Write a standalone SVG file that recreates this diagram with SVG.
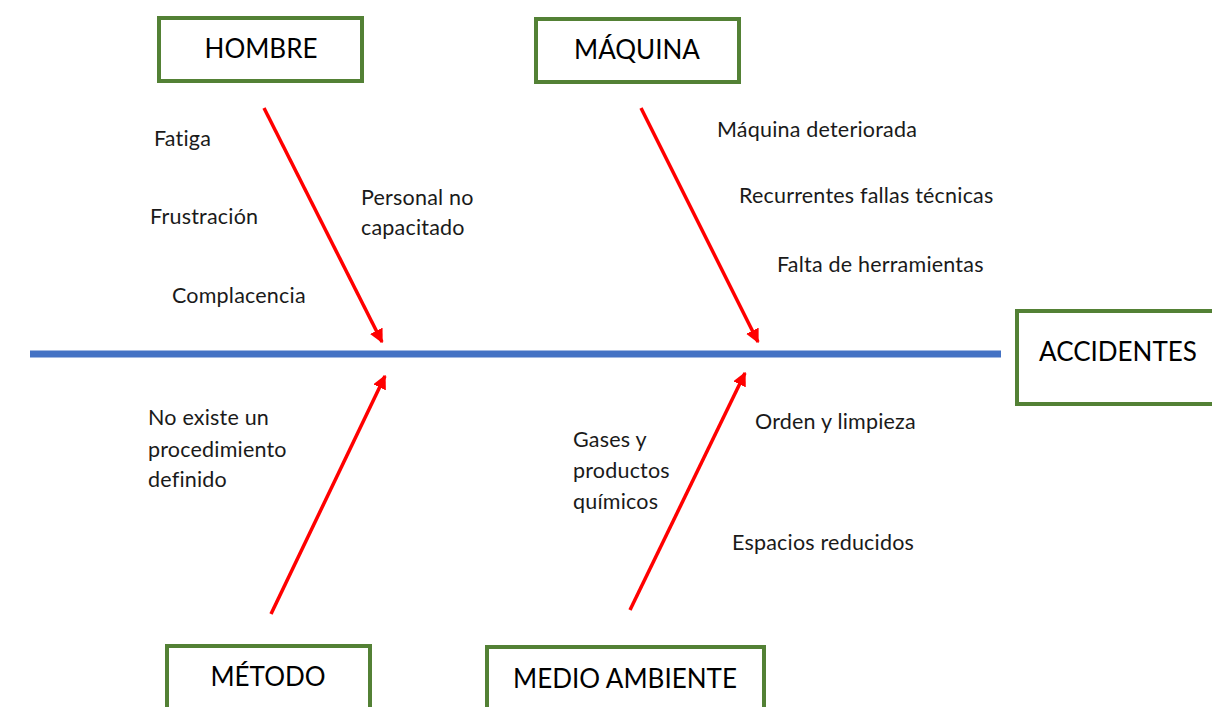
<svg xmlns="http://www.w3.org/2000/svg" width="1212" height="707" viewBox="0 0 1212 707">
<style>
.box{fill:#fff;stroke:#538135;stroke-width:4}
.bt{font-family:Lato,"Open Sans",sans-serif;font-size:26px;fill:#000;text-anchor:middle}
.lt{font-family:Lato,"Open Sans",sans-serif;font-size:21.5px;letter-spacing:0.2px;fill:#1a1a1a}
.arr{stroke:#ff0000;stroke-width:3.5;fill:none;marker-end:url(#ah)}
</style>
<defs>
<marker id="ah" viewBox="0 0 10 10" refX="9" refY="5" markerWidth="4" markerHeight="4" orient="auto" markerUnits="strokeWidth">
<path d="M0,0 L10,5 L0,10 z" fill="#ff0000"/>
</marker>
</defs>
<rect width="1212" height="707" fill="#fff"/>
<g id="connectors">
<line x1="30" y1="354" x2="1001" y2="354" stroke="#4472c4" stroke-width="7"/>
<line class="arr" x1="264" y1="108" x2="382" y2="342"/>
<line class="arr" x1="641" y1="108" x2="758" y2="342"/>
<line class="arr" x1="271" y1="614" x2="385" y2="376"/>
<line class="arr" x1="630" y1="610" x2="745" y2="373"/>
</g>
<g id="hombre"><rect class="box" x="159" y="18" width="203" height="63"/><text class="bt" x="261" y="58">HOMBRE</text></g>
<g id="maquina"><rect class="box" x="536" y="19" width="203" height="63"/><text class="bt" x="637" y="59">MÁQUINA</text></g>
<g id="accidentes"><rect class="box" x="1017" y="311" width="200" height="93"/><text class="bt" x="1118" y="361">ACCIDENTES</text></g>
<g id="metodo"><rect class="box" x="167" y="646" width="203" height="70"/><text class="bt" x="268" y="686">MÉTODO</text></g>
<g id="medio-ambiente"><rect class="box" x="487" y="647" width="277" height="70"/><text class="bt" x="625" y="688">MEDIO AMBIENTE</text></g>
<g id="labels">
<text class="lt" x="154" y="146">Fatiga</text>
<text class="lt" x="150" y="224">Frustración</text>
<text class="lt" x="172" y="303">Complacencia</text>
<text class="lt" x="361" y="205">Personal no</text>
<text class="lt" x="361" y="235">capacitado</text>
<text class="lt" x="717" y="137">Máquina deteriorada</text>
<text class="lt" x="739" y="203">Recurrentes fallas técnicas</text>
<text class="lt" x="777" y="272">Falta de herramientas</text>
<text class="lt" x="148" y="425">No existe un</text>
<text class="lt" x="148" y="457">procedimiento</text>
<text class="lt" x="148" y="487">definido</text>
<text class="lt" x="573" y="447">Gases y</text>
<text class="lt" x="573" y="478">productos</text>
<text class="lt" x="573" y="509">químicos</text>
<text class="lt" x="755" y="429">Orden y limpieza</text>
<text class="lt" x="732" y="550">Espacios reducidos</text>
</g>
</svg>
